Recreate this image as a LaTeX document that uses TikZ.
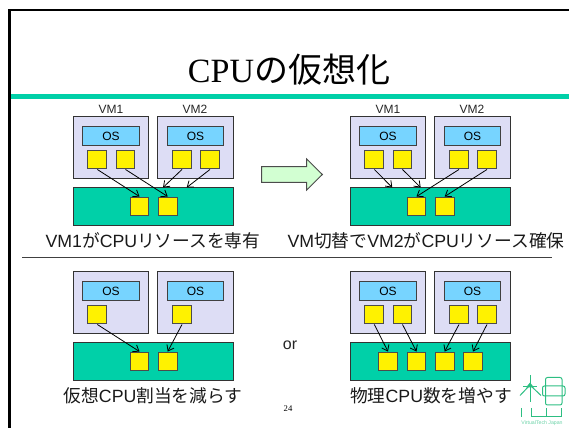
\documentclass[tikz,border=0pt]{standalone}
\usepackage{fontspec}
\setmainfont{Liberation Sans}
\newfontfamily\serifpart{Liberation Serif}
\newfontfamily\cjk{Noto Sans CJK JP}
\newcommand{\jp}[1]{{\cjk #1}}
\usetikzlibrary{arrows.meta}
\definecolor{barteal}{HTML}{00D0A8}
\definecolor{vmfill}{HTML}{DDDDF5}
\definecolor{osblue}{HTML}{77D4FF}
\definecolor{arrowgreen}{HTML}{D2FFD2}
\definecolor{logogreen}{HTML}{2DBE82}
\tikzset{
  vmbox/.style={draw=black!80,fill=vmfill,line width=0.75pt,inner sep=0pt,minimum width=56.5pt,minimum height=46pt},
  osbox/.style={draw=black!75,fill=osblue,line width=0.75pt,inner sep=0pt,minimum width=42.5pt,minimum height=14pt,font=\fontsize{9}{9}\selectfont},
  cpubox/.style={draw=black!70,fill=yellow,line width=0.75pt,inner sep=0pt,minimum width=14.2pt,minimum height=14.2pt},
  hostbox/.style={draw=black!80,fill=barteal,line width=0.75pt,inner sep=0pt,minimum width=120pt,minimum height=28.8pt},
  vmlabel/.style={inner sep=0.75pt,font=\fontsize{9}{9}\selectfont,text=black!85},
  caption/.style={inner sep=0.75pt,font=\fontsize{13.3}{13.3}\selectfont,text=black!90},
  maparrow/.style={black,line width=0.6pt,-{Straight Barb[length=4pt,width=6pt]}},
  logoline/.style={logogreen,line width=0.75pt}
}
\begin{document}
\begin{tikzpicture}[x=0.75pt,y=0.75pt,yscale=-1,xscale=1]
\useasboundingbox (0,0) rectangle (569,428);

%Frame and title rule
\draw [line width=1.6pt] (569,10) -- (9.5,10) -- (9.5,428);
\fill [barteal] (10.5,94) rectangle (569,99);
\draw [black!75,line width=0.75pt] (22,258) -- (552,258);

% Title
\node (title) [inner sep=0.75pt,font=\fontsize{25.5}{25.5}\selectfont] at (289,70) {{\serifpart CPU}\jp{の仮想化}};

%Top left group
\node (tl1label) [vmlabel] at (111,109) {VM1};
\node (tl2label) [vmlabel] at (195,109) {VM2};
\node (tlvm1) [vmbox] at (111,147.5) {};
\node (tlvm2) [vmbox] at (195.5,147.5) {};
\node (tlos1) [osbox] at (111,136) {OS};
\node (tlos2) [osbox] at (195.5,136) {OS};
\node (tlc1) [cpubox] at (97.3,159.5) {};
\node (tlc2) [cpubox] at (125.5,159.5) {};
\node (tlc3) [cpubox] at (182,159.5) {};
\node (tlc4) [cpubox] at (210,159.5) {};
\node (tlhost) [hostbox] at (153.5,206.5) {};
\node (tlp1) [cpubox] at (139.5,206.5) {};
\node (tlp2) [cpubox] at (167.7,206.5) {};
\coordinate (tlend3) at (163,187.5);
\coordinate (tlend4) at (186.7,187.5);
\draw [maparrow] (tlc1.south) -- (tlp1.north);
\draw [maparrow] (tlc2.south) -- (tlp2.north);
\draw [maparrow] (tlc3.south) -- (tlend3);
\draw [maparrow] (tlc4.south) -- (tlend4);
\node (tlcap) [caption] at (153,241) {VM1\jp{が}CPU\jp{リソースを専有}};

%Block arrow
\draw [draw=black!70,fill=arrowgreen,line width=0.75pt] (261.5,166.7) -- (306.7,166.7) -- (306.7,159) -- (322.3,174.5) -- (306.7,190) -- (306.7,182.3) -- (261.5,182.3) -- cycle;

%Top right group
\node (tr1label) [vmlabel] at (388,109) {VM1};
\node (tr2label) [vmlabel] at (472,109) {VM2};
\node (trvm1) [vmbox] at (388,147.5) {};
\node (trvm2) [vmbox] at (472.5,147.5) {};
\node (tros1) [osbox] at (388,136) {OS};
\node (tros2) [osbox] at (472.5,136) {OS};
\node (trc1) [cpubox] at (374.3,159.5) {};
\node (trc2) [cpubox] at (402.5,159.5) {};
\node (trc3) [cpubox] at (459,159.5) {};
\node (trc4) [cpubox] at (487,159.5) {};
\node (trhost) [hostbox] at (430.5,206.5) {};
\node (trp1) [cpubox] at (416.5,206.5) {};
\node (trp2) [cpubox] at (444.7,206.5) {};
\coordinate (trend1) at (392.3,187.5);
\coordinate (trend2) at (420.7,187.5);
\draw [maparrow] (trc1.south) -- (trend1);
\draw [maparrow] (trc2.south) -- (trend2);
\draw [maparrow] (trc3.south) -- (trp1.north);
\draw [maparrow] (trc4.south) -- (trp2.north);
\node (trcap) [caption] at (426,241) {VM\jp{切替で}VM2\jp{が}CPU\jp{リソース確保}};

%Bottom left group
\node (blvm1) [vmbox] at (111,302.5) {};
\node (blvm2) [vmbox] at (195.5,302.5) {};
\node (blos1) [osbox] at (111,291) {OS};
\node (blos2) [osbox] at (195.5,291) {OS};
\node (blc1) [cpubox] at (97.3,314.5) {};
\node (blc2) [cpubox] at (182,314.5) {};
\node (blhost) [hostbox] at (153.5,361.5) {};
\node (blp1) [cpubox] at (139.5,361.5) {};
\node (blp2) [cpubox] at (167.7,361.5) {};
\draw [maparrow] (blc1.south) -- (blp1.north);
\draw [maparrow] (blc2.south) -- (blp2.north);
\node (blcap) [caption] at (153,396) {\jp{仮想}CPU\jp{割当を減らす}};

% Text Node
\node (ortext) [inner sep=0.75pt,font=\fontsize{12}{12}\selectfont,text=black!85] at (290,345) {or};

%Bottom right group
\node (brvm1) [vmbox] at (388,302.5) {};
\node (brvm2) [vmbox] at (472.5,302.5) {};
\node (bros1) [osbox] at (388,291) {OS};
\node (bros2) [osbox] at (472.5,291) {OS};
\node (brc1) [cpubox] at (374.3,314.5) {};
\node (brc2) [cpubox] at (402.5,314.5) {};
\node (brc3) [cpubox] at (459,314.5) {};
\node (brc4) [cpubox] at (487,314.5) {};
\node (brhost) [hostbox] at (430.5,361.5) {};
\node (brp1) [cpubox] at (388,361.5) {};
\node (brp2) [cpubox] at (416.5,361.5) {};
\node (brp3) [cpubox] at (444.7,361.5) {};
\node (brp4) [cpubox] at (473,361.5) {};
\draw [maparrow] (brc1.south) -- (brp1.north);
\draw [maparrow] (brc2.south) -- (brp2.north);
\draw [maparrow] (brc3.south) -- (brp3.north);
\draw [maparrow] (brc4.south) -- (brp4.north);
\node (brcap) [caption] at (431,396) {\jp{物理}CPU\jp{数を増やす}};

% Text Node
\node (pagenum) [inner sep=0.75pt,font=\fontsize{6.5}{6.5}\selectfont\serifpart] at (288,409) {24};

%Logo
\draw [logoline] (530,375) -- (530,402);
\draw [logoline] (520,395.5) -- (530,385) -- (541,395.5);
\fill [logogreen] (530,382.5) -- (534,387.5) -- (526,387.5) -- cycle;
\draw [logoline] (523,387) -- (537,387);
\draw [logoline,rounded corners=1.5pt] (545.5,377.5) rectangle (562,405);
\draw [logoline,rounded corners=1.5pt] (542.5,386) rectangle (565,396);
\draw [logoline] (521.7,408) -- (521.7,417);
\draw [logoline] (531.7,408) -- (531.7,417) -- (561,417) -- (561,408);
\draw [logoline] (546.5,408) -- (546.5,417);
\node (logotext) [inner sep=0pt,font=\fontsize{3.9}{3.9}\selectfont,text=logogreen!70] at (542,423) {VirtualTech Japan};

\end{tikzpicture}
\end{document}
